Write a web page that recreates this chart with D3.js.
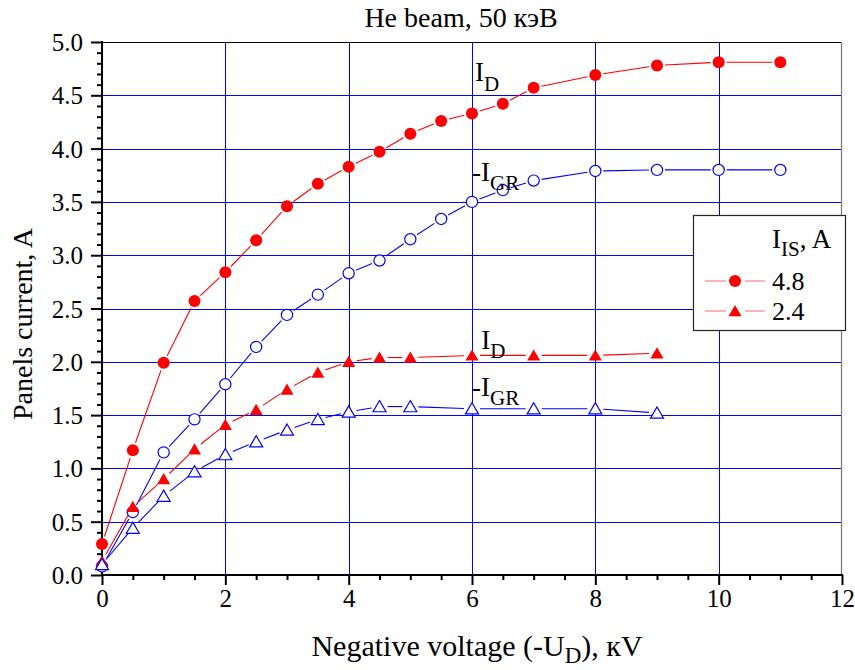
<!DOCTYPE html>
<html>
<head>
<meta charset="utf-8">
<script src="https://cdn.jsdelivr.net/npm/d3@7"></script>
<style>
  body { margin: 0; background: #fff; }
  svg text { font-family: "Liberation Serif", "Times New Roman", serif !important; fill: #000; }
</style>
</head>
<body>
<svg id="chart" width="855" height="670" font-family="Liberation Serif"></svg>
<script>
// Panel currents vs. negative voltage, He beam 50 keV
const voltageHigh = [0, 0.5, 1, 1.5, 2, 2.5, 3, 3.5, 4, 4.5, 5, 5.5, 6, 6.5, 7, 8, 9, 10, 11];
const idHigh  = [0.29, 1.17, 1.99, 2.57, 2.84, 3.14, 3.46, 3.67, 3.83, 3.97, 4.14, 4.26, 4.33, 4.42, 4.57, 4.69, 4.78, 4.81, 4.81];
const igrHigh = [0.08, 0.59, 1.15, 1.46, 1.79, 2.14, 2.44, 2.63, 2.83, 2.95, 3.15, 3.34, 3.50, 3.61, 3.70, 3.79, 3.80, 3.80, 3.80];

const voltageLow = [0, 0.5, 1, 1.5, 2, 2.5, 3, 3.5, 4, 4.5, 5, 6, 7, 8, 9];
const idLow  = [0.13, 0.64, 0.90, 1.18, 1.41, 1.55, 1.74, 1.90, 2.00, 2.04, 2.04, 2.06, 2.06, 2.06, 2.08];
const igrLow = [0.10, 0.44, 0.74, 0.97, 1.13, 1.25, 1.36, 1.46, 1.53, 1.58, 1.58, 1.56, 1.56, 1.56, 1.52];

const xTicks = [0, 2, 4, 6, 8, 10, 12];
const yTicks = [0, 0.5, 1, 1.5, 2, 2.5, 3, 3.5, 4, 4.5, 5];
const legendLabels = ["4.8", "2.4"];

const RED = "#ff0000", BLUE = "#0000ff";
const FONT = "Liberation Serif";
const svg = d3.select("#chart");
const L = 102, R = 842, T = 42, B = 575;
const x = d3.scaleLinear().domain([0, 12]).range([L, R]);
const y = d3.scaleLinear().domain([0, 5]).range([B, T]);

// grid
const grid = svg.append("g").attr("stroke", BLUE).attr("stroke-width", 1);
grid.selectAll("line.gx").data(xTicks.filter(d => d > 0 && d < 12)).join("line")
  .attr("x1", d => Math.round(x(d)) + 0.5).attr("x2", d => Math.round(x(d)) + 0.5)
  .attr("y1", T).attr("y2", B);
grid.selectAll("line.gy").data(yTicks.filter(d => d > 0 && d < 5)).join("line")
  .attr("y1", d => Math.round(y(d)) + 0.5).attr("y2", d => Math.round(y(d)) + 0.5)
  .attr("x1", L).attr("x2", R);

// frame: top and right
svg.append("line").attr("x1", L).attr("x2", R).attr("y1", T + 0.5).attr("y2", T + 0.5)
  .attr("stroke", "#000").attr("stroke-width", 1);
svg.append("line").attr("x1", R - 0.5).attr("x2", R - 0.5).attr("y1", T).attr("y2", B)
  .attr("stroke", "#777").attr("stroke-width", 1.2);

// axes
const isMajorY = d => yTicks.some(t => Math.abs(t - d) < 1e-9);
const xAxis = d3.axisBottom(x).tickValues(d3.range(0, 12.01, 0.5)).tickSize(5)
  .tickFormat(d => xTicks.includes(d) ? d : "");
const gx = svg.append("g").attr("transform", `translate(0,${B})`).call(xAxis)
  .attr("font-family", FONT).attr("font-size", 25);
gx.selectAll(".tick line").attr("stroke-width", 2).attr("y2", d => xTicks.includes(d) ? 10 : 5);
gx.select(".domain").attr("stroke-width", 2).attr("d", `M${L - 1},0H${R + 1}`);
gx.selectAll(".tick text").attr("y", 14).attr("dy", "0.71em")
  .attr("font-family", FONT).attr("font-size", 25);

const yAxis = d3.axisLeft(y).tickValues(d3.range(0, 50.5, 1).map(d => d / 10)).tickSize(5)
  .tickFormat(d => isMajorY(d) ? d3.format(".1f")(d) : "");
const gy = svg.append("g").attr("transform", `translate(${L},0)`).call(yAxis)
  .attr("font-family", FONT).attr("font-size", 25);
gy.selectAll(".tick line").attr("stroke-width", 2).attr("x2", d => isMajorY(d) ? -11 : -5);
gy.select(".domain").attr("stroke-width", 2).attr("d", `M0,${T - 1}V${B + 1}`);
gy.selectAll(".tick text").attr("x", -19).attr("dy", "0.34em")
  .attr("font-family", FONT).attr("font-size", 25);
svg.selectAll(".domain, .tick line").attr("stroke", "#000");

// series connectors with gaps around markers
function gappedSegments(xs, ys, gap) {
  const segs = [];
  for (let i = 0; i < xs.length - 1; i++) {
    const x1 = x(xs[i]), y1 = y(ys[i]), x2 = x(xs[i + 1]), y2 = y(ys[i + 1]);
    const len = Math.hypot(x2 - x1, y2 - y1);
    if (len <= 2 * gap) continue;
    const ux = (x2 - x1) / len, uy = (y2 - y1) / len;
    segs.push([x1 + ux * gap, y1 + uy * gap, x2 - ux * gap, y2 - uy * gap]);
  }
  return segs;
}
function drawLine(xs, ys, color) {
  svg.append("g").selectAll("line").data(gappedSegments(xs, ys, 8)).join("line")
    .attr("x1", d => d[0]).attr("y1", d => d[1]).attr("x2", d => d[2]).attr("y2", d => d[3])
    .attr("stroke", color).attr("stroke-width", 1.1);
}
const tri = (cx, cy) => `M${cx},${cy - 6}L${cx + 6.5},${cy + 5.2}L${cx - 6.5},${cy + 5.2}Z`;

drawLine(voltageHigh, idHigh, RED);
drawLine(voltageHigh, igrHigh, BLUE);
drawLine(voltageLow, idLow, RED);
drawLine(voltageLow, igrLow, BLUE);

const pairs = (xs, ys) => xs.map((v, i) => [v, ys[i]]);
svg.append("g").selectAll("circle").data(pairs(voltageHigh, idHigh)).join("circle")
  .attr("cx", d => x(d[0])).attr("cy", d => y(d[1])).attr("r", 6).attr("fill", RED);
svg.append("g").selectAll("circle").data(pairs(voltageHigh, igrHigh)).join("circle")
  .attr("cx", d => x(d[0])).attr("cy", d => y(d[1])).attr("r", 5.6)
  .attr("fill", "#fff").attr("stroke", BLUE).attr("stroke-width", 1.2);
svg.append("g").selectAll("path").data(pairs(voltageLow, idLow)).join("path")
  .attr("d", d => tri(x(d[0]), y(d[1]))).attr("fill", RED);
svg.append("g").selectAll("path").data(pairs(voltageLow, igrLow)).join("path")
  .attr("d", d => tri(x(d[0]), y(d[1])))
  .attr("fill", "#fff").attr("stroke", BLUE).attr("stroke-width", 1.2);

// curve labels
function subLabel(px, py, main, sub, size) {
  const t = svg.append("text").attr("x", px).attr("y", py)
    .attr("font-family", FONT).attr("font-size", size);
  t.append("tspan").text(main);
  t.append("tspan").attr("dy", size * 0.35).attr("font-size", size * 0.78).text(sub);
}
subLabel(x(6.05), y(4.63), "I", "D", 27);
subLabel(x(6.0), y(3.70), "-I", "GR", 27);
subLabel(x(6.15), y(2.12), "I", "D", 27);
subLabel(x(6.0), y(1.68), "-I", "GR", 27);

// title and axis titles
svg.append("text").attr("x", 461).attr("y", 27).attr("text-anchor", "middle")
  .attr("font-family", FONT).attr("font-size", 28).text("He beam, 50 кэВ");

const xt = svg.append("text").attr("x", 477).attr("y", 656).attr("text-anchor", "middle")
  .attr("font-family", FONT).attr("font-size", 30);
xt.append("tspan").text("Negative voltage (-U");
xt.append("tspan").attr("dy", 7).attr("font-size", 23).text("D");
xt.append("tspan").attr("dy", -7).text("), кV");

svg.append("text").attr("transform", "translate(32,324) rotate(-90)")
  .attr("text-anchor", "middle").attr("font-family", FONT).attr("font-size", 28)
  .text("Panels current, A");

// legend
const lg = svg.append("g");
lg.append("rect").attr("x", 693.5).attr("y", 215.5).attr("width", 152).attr("height", 115)
  .attr("fill", "#fff").attr("stroke", "#222").attr("stroke-width", 1.2);
const lt = lg.append("text").attr("x", 772).attr("y", 248)
  .attr("font-family", FONT).attr("font-size", 27);
lt.append("tspan").text("I");
lt.append("tspan").attr("dy", 8).attr("font-size", 21).text("IS");
lt.append("tspan").attr("dy", -8).text(", A");

const rows = lg.selectAll("g.row").data(legendLabels).join("g")
  .attr("transform", (d, i) => `translate(0,${281 + i * 30})`);
rows.append("line").attr("x1", 705).attr("x2", 726).attr("y1", 0).attr("y2", 0)
  .attr("stroke", RED).attr("stroke-width", 1).attr("opacity", 0.6);
rows.append("line").attr("x1", 745).attr("x2", 765).attr("y1", 0).attr("y2", 0)
  .attr("stroke", RED).attr("stroke-width", 1).attr("opacity", 0.6);
rows.each(function (d, i) {
  const g = d3.select(this);
  if (i === 0) g.append("circle").attr("cx", 735).attr("cy", 0).attr("r", 6).attr("fill", RED);
  else g.append("path").attr("d", tri(735, 0)).attr("fill", RED);
});
rows.append("text").attr("x", 772).attr("y", 0).attr("dy", "0.35em")
  .attr("font-family", FONT).attr("font-size", 26).text(d => d);
</script>
</body>
</html>
